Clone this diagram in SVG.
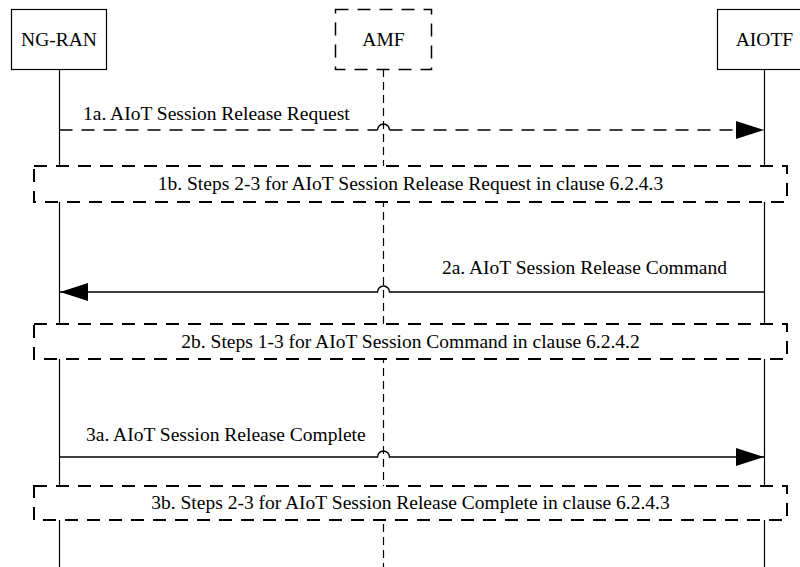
<svg xmlns="http://www.w3.org/2000/svg" width="800" height="567" viewBox="0 0 800 567">
<style>
text{font-family:"Liberation Serif","Times New Roman",serif;font-size:19.5px;fill:#000}
.c{text-anchor:middle}
.life{stroke:#000;stroke-width:1.2;fill:none}
.lifed{stroke:#000;stroke-width:1.2;fill:none;stroke-dasharray:8 5}
.msg{stroke:#000;stroke-width:1.5;fill:none;marker-end:url(#ah)}
.ln{stroke:#000;stroke-width:1.5;fill:none}
.msgd{stroke:#000;stroke-width:1.5;fill:none;stroke-dasharray:13 9}
.box{fill:#fff;stroke:#000;stroke-width:1.2}
.dbox{fill:#fff;stroke:#000;stroke-width:2;stroke-dasharray:13 9}
</style>
<defs>
<marker id="ah" markerUnits="userSpaceOnUse" markerWidth="30" markerHeight="20" refX="28" refY="9" orient="auto">
<path d="M0,0 L28,9 L0,18 z" fill="#000"/>
</marker>
</defs>
<rect width="800" height="567" fill="#fff"/>
<g id="lifelines">
<line class="life" x1="59.5" y1="69" x2="59.5" y2="567"/>
<line class="lifed" x1="383.5" y1="69" x2="383.5" y2="567"/>
<line class="life" x1="764.5" y1="69" x2="764.5" y2="567"/>
</g>
<g id="node-ngran">
<rect class="box" x="11.5" y="9.5" width="95" height="60"/>
<text class="c" x="59" y="46">NG-RAN</text>
</g>
<g id="node-amf">
<rect class="dbox" style="stroke-width:1.5" x="335.5" y="9.5" width="96" height="60"/>
<text class="c" x="383.5" y="46">AMF</text>
</g>
<g id="node-aiotf">
<rect class="box" x="717.5" y="9.5" width="95" height="60"/>
<text class="c" x="764.5" y="46">AIOTF</text>
</g>
<g id="connectors">
<g id="m1a">
<path class="msgd" d="M59.5 130 H377.5"/>
<path class="ln" d="M377.5 130 A6 6 0 0 1 389.5 130"/>
<path class="msgd" style="marker-end:url(#ah)" d="M389.5 130 H764"/>
</g>
<path id="m2a" class="msg" d="M764.5 292 H389.5 A6 6 0 0 0 377.5 292 H60"/>
<path id="m3a" class="msg" d="M59.5 457 H377.5 A6 6 0 0 1 389.5 457 H764"/>
<text x="83" y="120">1a. AIoT Session Release Request</text>
<text x="727" y="274" text-anchor="end">2a. AIoT Session Release Command</text>
<text x="86" y="441">3a. AIoT Session Release Complete</text>
</g>
<g id="node-1b">
<rect class="dbox" x="34" y="166" width="753" height="36"/>
<text class="c" x="410.5" y="190">1b. Steps 2-3 for AIoT Session Release Request in clause 6.2.4.3</text>
</g>
<g id="node-2b">
<rect class="dbox" x="34" y="324" width="753" height="35"/>
<text class="c" x="410.5" y="348">2b. Steps 1-3 for AIoT Session Command in clause 6.2.4.2</text>
</g>
<g id="node-3b">
<rect class="dbox" x="34" y="486" width="753" height="34"/>
<text class="c" x="410.5" y="509">3b. Steps 2-3 for AIoT Session Release Complete in clause 6.2.4.3</text>
</g>
</svg>
